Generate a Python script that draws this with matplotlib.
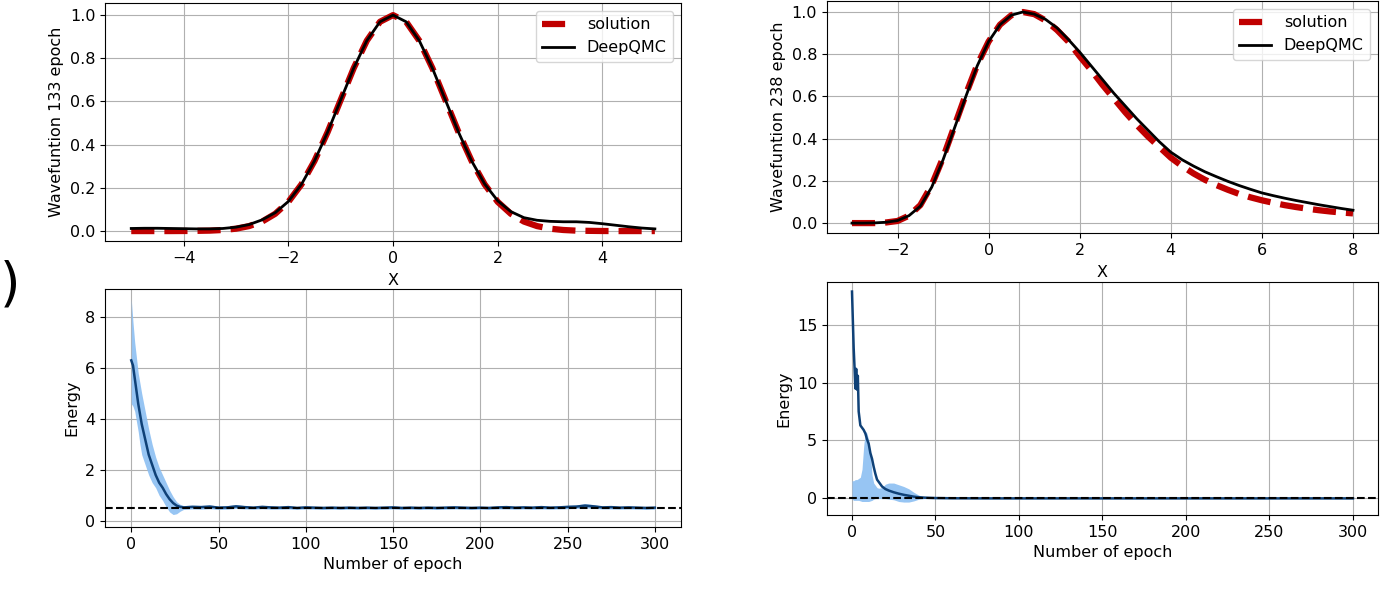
import numpy as np
import matplotlib
matplotlib.use("Agg")
import matplotlib.pyplot as plt

# ---------------- data ----------------
x_left = np.arange(-5.0, 5.001, 0.25)
sol_left = [0.0, 0.0, 0.0, 0.0, 0.0003, 0.001, 0.002, 0.005, 0.011, 0.023, 0.044,
            0.080, 0.135, 0.216, 0.325, 0.458, 0.607, 0.755, 0.882, 0.969, 1.0,
            0.969, 0.882, 0.755, 0.607, 0.458, 0.325, 0.216, 0.135, 0.080, 0.044,
            0.023, 0.011, 0.005, 0.002, 0.001, 0.0003, 0.0, 0.0, 0.0, 0.0]
dqmc_left = [0.012, 0.013, 0.013, 0.012, 0.011, 0.010, 0.010, 0.012, 0.018, 0.030, 0.052,
             0.085, 0.137, 0.216, 0.325, 0.458, 0.607, 0.755, 0.882, 0.969, 1.0,
             0.969, 0.882, 0.755, 0.607, 0.458, 0.325, 0.218, 0.140, 0.090, 0.062,
             0.050, 0.045, 0.043, 0.043, 0.040, 0.034, 0.027, 0.020, 0.014, 0.010]

x_right = np.arange(-3.0, 8.001, 0.25)
sol_right = [0.0, 0.0, 0.0, 0.003, 0.01, 0.035, 0.085, 0.18, 0.31, 0.46, 0.61, 0.75,
             0.86, 0.94, 0.985, 1.0, 0.99, 0.96, 0.915, 0.86, 0.79, 0.725, 0.655,
             0.59, 0.525, 0.465, 0.41, 0.36, 0.31, 0.27, 0.235, 0.205, 0.18, 0.158,
             0.138, 0.122, 0.108, 0.096, 0.085, 0.076, 0.068, 0.061, 0.055, 0.05, 0.046]
dqmc_right = [0.0, 0.0, 0.001, 0.004, 0.012, 0.035, 0.08, 0.17, 0.30, 0.45, 0.60, 0.745,
              0.86, 0.94, 0.985, 1.0, 0.99, 0.965, 0.925, 0.87, 0.81, 0.745, 0.68,
              0.615, 0.555, 0.495, 0.44, 0.385, 0.336, 0.30, 0.27, 0.243, 0.22, 0.198,
              0.178, 0.16, 0.143, 0.13, 0.118, 0.107, 0.097, 0.087, 0.078, 0.069, 0.061]

ep_left = [0, 1, 2, 3, 4, 5, 6, 8, 10, 12, 14, 16, 18, 20, 22, 24, 26, 28, 30,
           35, 40, 45, 50, 55, 60, 65, 70, 75, 80, 85, 90, 95, 100, 105, 110, 115,
           120, 125, 130, 135, 140, 145, 150, 155, 160, 165, 170, 175, 180, 185, 190,
           195, 200, 205, 210, 215, 220, 225, 230, 235, 240, 245, 250, 255, 260, 265,
           270, 275, 280, 285, 290, 295, 300]
mean_left = [6.3, 6.1, 5.6, 5.1, 4.6, 4.2, 3.8, 3.2, 2.6, 2.2, 1.8, 1.5, 1.3, 1.05,
             0.85, 0.7, 0.6, 0.55, 0.53,
             0.55, 0.54, 0.56, 0.52, 0.53, 0.57, 0.54, 0.52, 0.55, 0.53, 0.52, 0.54,
             0.51, 0.53, 0.52, 0.51, 0.52, 0.51, 0.52, 0.51, 0.52, 0.51, 0.52, 0.53,
             0.51, 0.52, 0.51, 0.52, 0.51, 0.52, 0.53, 0.52, 0.51, 0.52, 0.51, 0.53,
             0.54, 0.52, 0.53, 0.52, 0.54, 0.52, 0.53, 0.55, 0.56, 0.60, 0.57, 0.53,
             0.54, 0.52, 0.53, 0.52, 0.51, 0.52]
upper_left = [8.7, 7.8, 7.0, 6.4, 5.8, 5.4, 5.0, 4.3, 3.6, 3.0, 2.5, 2.1, 1.8, 1.5,
              1.2, 0.95, 0.75, 0.65, 0.6,
              0.62, 0.61, 0.63, 0.58, 0.6, 0.64, 0.6, 0.57, 0.61, 0.59, 0.57, 0.6,
              0.56, 0.58, 0.57, 0.56, 0.57, 0.56, 0.57, 0.56, 0.57, 0.56, 0.57, 0.59,
              0.56, 0.57, 0.56, 0.57, 0.56, 0.57, 0.58, 0.57, 0.56, 0.57, 0.56, 0.58,
              0.6, 0.57, 0.58, 0.57, 0.6, 0.57, 0.58, 0.61, 0.63, 0.68, 0.64, 0.58,
              0.6, 0.57, 0.58, 0.57, 0.56, 0.57]
lower_left = [4.6, 4.5, 4.3, 3.9, 3.5, 3.0, 2.6, 2.2, 1.8, 1.5, 1.3, 1.0, 0.8, 0.55,
              0.35, 0.25, 0.28, 0.38, 0.45,
              0.47, 0.46, 0.48, 0.45, 0.46, 0.49, 0.47, 0.46, 0.48, 0.46, 0.46, 0.47,
              0.45, 0.47, 0.46, 0.45, 0.46, 0.45, 0.46, 0.45, 0.46, 0.45, 0.46, 0.47,
              0.45, 0.46, 0.45, 0.46, 0.45, 0.46, 0.47, 0.46, 0.45, 0.46, 0.45, 0.47,
              0.47, 0.46, 0.47, 0.46, 0.47, 0.46, 0.47, 0.48, 0.49, 0.51, 0.49, 0.47,
              0.47, 0.46, 0.47, 0.46, 0.45, 0.46]
exact_left = 0.5

ep_right = [0, 1, 1.5, 2, 2.5, 3, 3.5, 4, 5, 6, 7, 8, 9, 10, 11, 12, 13, 14, 15,
            16, 18, 20, 22, 25, 28, 31, 34, 37, 40, 43, 46, 50, 60, 80, 100, 150,
            200, 250, 300]
mean_right = [17.9, 13.0, 11.4, 9.5, 11.2, 9.4, 10.6, 7.5, 6.3, 6.1, 5.9, 5.6, 5.1,
              4.7, 3.9, 3.4, 2.7, 2.1, 1.6, 1.4, 1.0, 0.78, 0.65, 0.5, 0.38, 0.28,
              0.2, 0.12, 0.07, 0.04, 0.02, 0.0, -0.02, -0.03, -0.03, -0.03,
              -0.03, -0.03, -0.03]
upper_right = [1.5, 1.5, 1.55, 1.6, 1.6, 1.6, 1.65, 1.7, 1.8, 2.5, 4.5, 5.8, 5.6,
               5.0, 4.0, 2.0, 1.3, 1.1, 0.9, 0.85, 0.9, 1.2, 1.3, 1.3, 1.15, 1.0,
               0.8, 0.5, 0.25, 0.1, 0.05, 0.02, 0.0, -0.01, -0.01, -0.01,
               -0.01, -0.01, -0.01]
lower_right = [-0.1, -0.2, -0.2, -0.2, -0.2, -0.2, -0.2, -0.2, -0.25, -0.3, -0.3,
               -0.3, -0.3, -0.3, -0.25, -0.2, -0.1, -0.05, -0.05, -0.05, -0.05,
               -0.05, -0.1, -0.15, -0.3, -0.35, -0.35, -0.25, -0.1, -0.05, -0.05,
               -0.05, -0.05, -0.05, -0.05, -0.05, -0.05, -0.05, -0.05]
exact_right = 0.0

epochs_tl = 133
epochs_tr = 238

# ---------------- style ----------------
plt.rcParams['font.family'] = ['DejaVu Sans']
plt.rcParams['font.size'] = 11.5
red = '#c00000'
line_blue = '#0f4177'
fill_blue = '#8cbff2'

fig = plt.figure(figsize=(13.99, 6.01), dpi=100)

ax_tl = fig.add_axes([0.0751, 0.599, 0.4117, 0.396])
ax_tr = fig.add_axes([0.5911, 0.6123, 0.3939, 0.386])
ax_bl = fig.add_axes([0.0751, 0.1231, 0.4117, 0.396])
ax_br = fig.add_axes([0.5911, 0.1431, 0.3939, 0.3877])

for ax, x, s, d, ep in [(ax_tl, x_left, sol_left, dqmc_left, epochs_tl),
                        (ax_tr, x_right, sol_right, dqmc_right, epochs_tr)]:
    ax.plot(x, s, color=red, lw=4.5, ls=(0, (3.7, 1.6)), label='solution')
    ax.plot(x, d, color='black', lw=2, label='DeepQMC')
    ax.grid(True, color='#b0b0b0', lw=0.8)
    ax.set_axisbelow(True)
    ax.set_xlabel('X', labelpad=5)
    ax.set_ylabel(f'Wavefuntion {ep} epoch')
    ax.legend(loc='upper right', fontsize=11.5)

ax_tl.set_xlim(-5.5, 5.5)
ax_tl.set_ylim(-0.046, 1.056)
ax_tl.set_xticks([-4, -2, 0, 2, 4])
ax_tl.set_yticks([0.0, 0.2, 0.4, 0.6, 0.8, 1.0])
ax_tr.set_xlim(-3.55, 8.55)
ax_tr.set_ylim(-0.047, 1.052)
ax_tr.set_xticks([-2, 0, 2, 4, 6, 8])
ax_tr.set_yticks([0.0, 0.2, 0.4, 0.6, 0.8, 1.0])

for ax, ep, m, lo, up, ex in [(ax_bl, ep_left, mean_left, lower_left, upper_left, exact_left),
                              (ax_br, ep_right, mean_right, lower_right, upper_right, exact_right)]:
    ax.fill_between(ep, lo, up, color=fill_blue, alpha=0.9, lw=0)
    ax.plot(ep, m, color=line_blue, lw=1.8)
    ax.axhline(ex, color='black', ls='--', lw=1.5)
    ax.grid(True, color='#b0b0b0', lw=0.8)
    ax.set_axisbelow(True)
    ax.set_xlim(-15, 315)
    ax.set_xlabel('Number of epoch')
    ax.set_ylabel('Energy')

ax_bl.set_ylim(-0.24, 9.1)
ax_bl.set_yticks([0, 2, 4, 6, 8])
ax_br.set_ylim(-1.47, 18.73)
ax_br.set_yticks([0, 5, 10, 15])

fig.text(0.0, 0.525, ')', fontsize=38, va='center', ha='left')

fig.savefig('out.png', dpi=100)
